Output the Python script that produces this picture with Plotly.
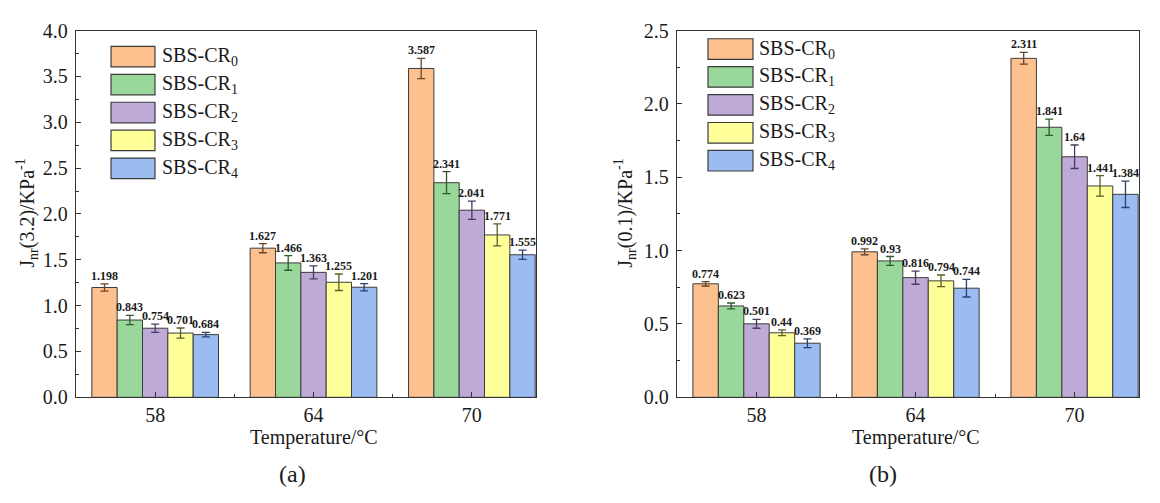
import plotly.graph_objects as go

W, H = 1160, 503

temperatures = ["58", "64", "70"]
series_names = ["SBS-CR<sub>0</sub>", "SBS-CR<sub>1</sub>", "SBS-CR<sub>2</sub>",
                "SBS-CR<sub>3</sub>", "SBS-CR<sub>4</sub>"]

# Jnr(3.2) values per series, one entry per temperature
jnr32_cr0 = [1.198, 1.627, 3.587]
jnr32_cr1 = [0.843, 1.466, 2.341]
jnr32_cr2 = [0.754, 1.363, 2.041]
jnr32_cr3 = [0.701, 1.255, 1.771]
jnr32_cr4 = [0.684, 1.201, 1.555]

jnr32_err_cr0 = [0.040, 0.050, 0.110]
jnr32_err_cr1 = [0.050, 0.080, 0.120]
jnr32_err_cr2 = [0.045, 0.070, 0.100]
jnr32_err_cr3 = [0.055, 0.090, 0.120]
jnr32_err_cr4 = [0.025, 0.040, 0.050]

# Jnr(0.1) values per series
jnr01_cr0 = [0.774, 0.992, 2.311]
jnr01_cr1 = [0.623, 0.930, 1.841]
jnr01_cr2 = [0.501, 0.816, 1.640]
jnr01_cr3 = [0.440, 0.794, 1.441]
jnr01_cr4 = [0.369, 0.744, 1.384]

jnr01_err_cr0 = [0.015, 0.020, 0.040]
jnr01_err_cr1 = [0.020, 0.030, 0.055]
jnr01_err_cr2 = [0.030, 0.045, 0.080]
jnr01_err_cr3 = [0.020, 0.040, 0.070]
jnr01_err_cr4 = [0.030, 0.060, 0.090]

jnr32 = [jnr32_cr0, jnr32_cr1, jnr32_cr2, jnr32_cr3, jnr32_cr4]
jnr32_err = [jnr32_err_cr0, jnr32_err_cr1, jnr32_err_cr2, jnr32_err_cr3, jnr32_err_cr4]
jnr01 = [jnr01_cr0, jnr01_cr1, jnr01_cr2, jnr01_cr3, jnr01_cr4]
jnr01_err = [jnr01_err_cr0, jnr01_err_cr1, jnr01_err_cr2, jnr01_err_cr3, jnr01_err_cr4]

fill_colors = ["#FDC08F", "#9AD79A", "#BEAAD6", "#FFFF9A", "#9ABCF0"]
err_colors = ["#6A4527", "#2E5A2E", "#4A3A5E", "#5E5E22", "#2C416A"]
edge = "#3C3C3C"
SERIF = "Liberation Serif, Times New Roman, DejaVu Serif, serif"

BARGAP = 0.2
n_series = len(series_names)
bar_w = (1 - BARGAP) / n_series
xpos = list(range(len(temperatures)))


def px(x):
    return x / W


def py(y):
    return 1 - y / H


fig = go.Figure()

panels = [
    dict(vals=jnr32, errs=jnr32_err, xa="x", ya="y"),
    dict(vals=jnr01, errs=jnr01_err, xa="x2", ya="y2"),
]

annotations = []
for p in panels:
    for i in range(n_series):
        fig.add_trace(go.Bar(
            x=xpos, y=p["vals"][i], name=series_names[i],
            xaxis=p["xa"], yaxis=p["ya"], showlegend=False,
            marker=dict(color=fill_colors[i], line=dict(color=edge, width=1)),
            error_y=dict(type="data", array=p["errs"][i], visible=True,
                         color=err_colors[i], thickness=1.3, width=4),
        ))
        for k in xpos:
            v = p["vals"][i][k]
            annotations.append(dict(
                x=k + (i - (n_series - 1) / 2) * bar_w,
                y=v + p["errs"][i][k],
                xref=p["xa"], yref=p["ya"],
                text=f"<b>{v:g}</b>", showarrow=False,
                xanchor="center", yanchor="bottom", yshift=-1,
                font=dict(family=SERIF, size=12, color="#1A1A1A"),
            ))

axis_common = dict(
    showline=True, linecolor="#333333", linewidth=1.3, mirror=True,
    ticks="inside", tickcolor="#333333", tickwidth=1.3,
    showgrid=False, zeroline=False,
    tickfont=dict(family=SERIF, size=20, color="#1A1A1A"),
)

xaxis_common = dict(
    axis_common, range=[-0.5, 2.405], tickmode="array", tickvals=xpos,
    ticktext=temperatures, ticklen=5,
    minor=dict(tickmode="array", tickvals=[0.5, 1.5], ticks="inside",
               ticklen=3, tickcolor="#333333", tickwidth=1.3),
)

y_top = py(20.5)
y_bot = py(404)

fig.update_layout(
    width=W, height=H,
    margin=dict(l=0, r=0, t=0, b=0),
    paper_bgcolor="white", plot_bgcolor="white",
    font=dict(family=SERIF),
    barmode="group", bargap=BARGAP, bargroupgap=0,
    xaxis=dict(xaxis_common, domain=[px(76), px(536)], anchor="y"),
    yaxis=dict(axis_common, domain=[y_bot, y_top], anchor="x", range=[0, 4.0],
               dtick=0.5, tickformat=".1f", ticklen=5, ticklabelstandoff=3,
               minor=dict(dtick=0.25, ticks="inside", ticklen=3,
                          tickcolor="#333333", tickwidth=1.3)),
    xaxis2=dict(xaxis_common, domain=[px(677), px(1139)], anchor="y2"),
    yaxis2=dict(axis_common, domain=[y_bot, y_top], anchor="x2", range=[0, 2.5],
                dtick=0.5, tickformat=".1f", ticklen=5, ticklabelstandoff=3,
                minor=dict(dtick=0.25, ticks="inside", ticklen=3,
                           tickcolor="#333333", tickwidth=1.3)),
)

title_font = dict(family=SERIF, size=20, color="#1A1A1A")

# axis titles
for xa in ["x", "x2"]:
    annotations.append(dict(
        x=1, xref=xa, y=py(446), yref="paper", text="Temperature/°C",
        showarrow=False, xanchor="center", yanchor="middle", font=title_font,
    ))
annotations.append(dict(
    x=px(27), y=py(212), xref="paper", yref="paper",
    text="J<sub>nr</sub>(3.2)/KPa<sup>-1</sup>", textangle=-90,
    showarrow=False, xanchor="center", yanchor="middle", font=title_font,
))
annotations.append(dict(
    x=px(625), y=py(212), xref="paper", yref="paper",
    text="J<sub>nr</sub>(0.1)/KPa<sup>-1</sup>", textangle=-90,
    showarrow=False, xanchor="center", yanchor="middle", font=title_font,
))

# panel captions
for label, cx in [("(a)", 292), ("(b)", 883)]:
    annotations.append(dict(
        x=px(cx), y=py(484), xref="paper", yref="paper", text=label,
        showarrow=False, xanchor="center", yanchor="middle",
        font=dict(family=SERIF, size=24, color="#1A1A1A"),
    ))

# legend blocks drawn inside each panel
shapes = []
legend_specs = [
    dict(x0=111, x1=155, top=37, tx=160),
    dict(x0=708, x1=753, top=29, tx=757),
]
ROW = 29.2
BOX_H = 21.5
for spec in legend_specs:
    for i, name in enumerate(series_names):
        t = spec["top"] + i * ROW
        shapes.append(dict(
            type="rect", xref="paper", yref="paper",
            x0=px(spec["x0"]), x1=px(spec["x1"]), y0=py(t + BOX_H), y1=py(t),
            fillcolor=fill_colors[i], line=dict(color=edge, width=1.2),
        ))
        annotations.append(dict(
            x=px(spec["tx"]), y=py(t + BOX_H / 2), xref="paper", yref="paper",
            text=name, showarrow=False, xanchor="left", yanchor="middle",
            font=dict(family=SERIF, size=20, color="#1A1A1A"),
        ))

fig.update_layout(annotations=annotations, shapes=shapes)

fig.write_html("out.html")
